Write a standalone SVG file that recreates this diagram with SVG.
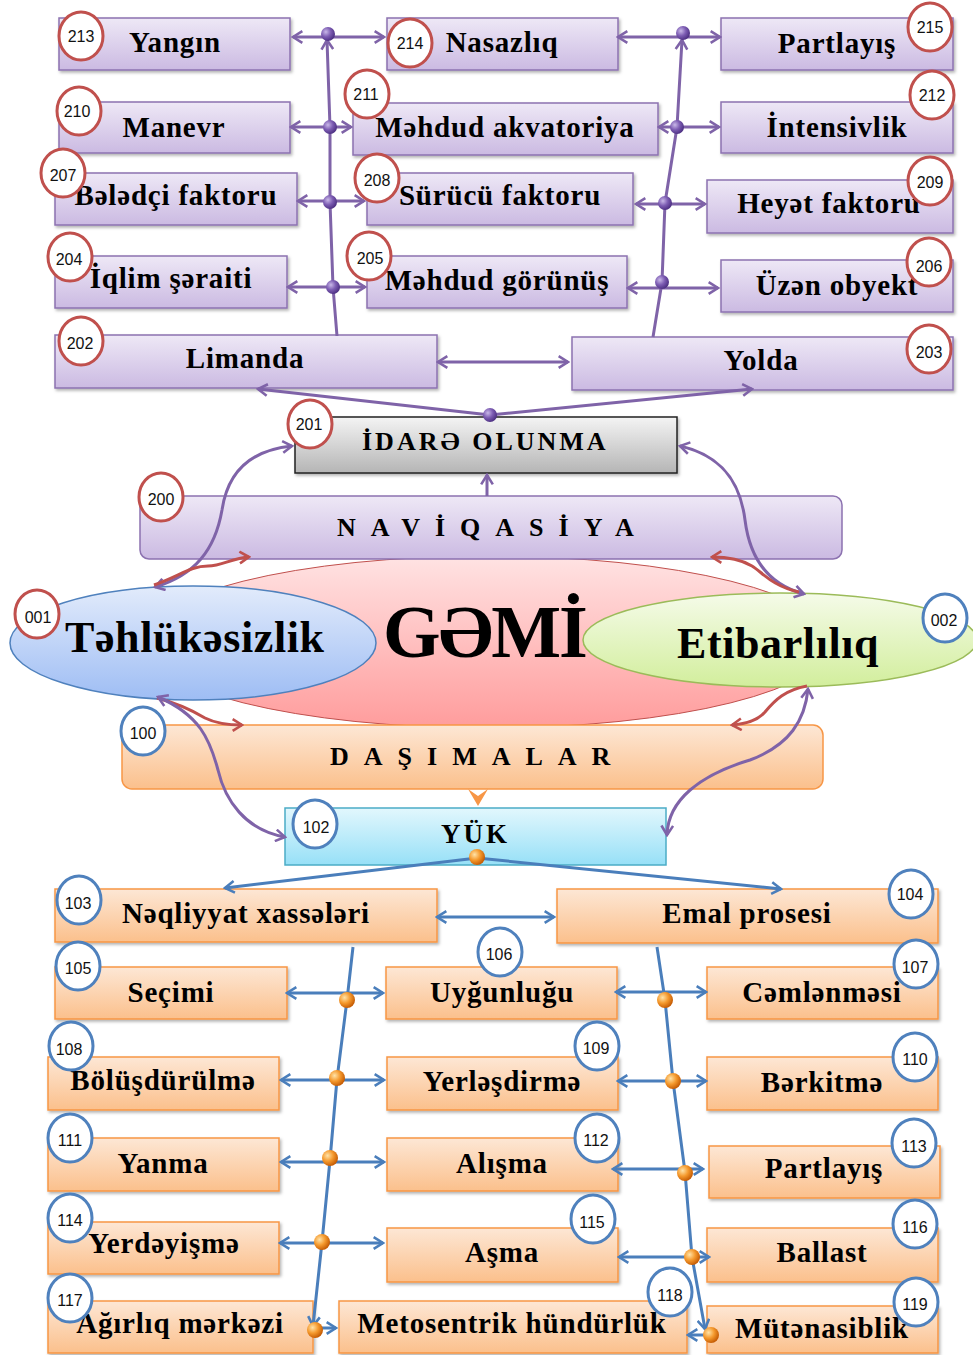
<svg xmlns="http://www.w3.org/2000/svg" width="973" height="1355" viewBox="0 0 973 1355">
<defs>
<style>
.lbl{font-family:"Liberation Serif","DejaVu Serif",serif;font-weight:bold;font-size:29px;letter-spacing:0.8px;fill:#000;text-anchor:middle}
.big{font-family:"Liberation Serif","DejaVu Serif",serif;font-weight:bold;fill:#000}
.num{font-family:"Liberation Sans","DejaVu Sans",sans-serif;font-size:16px;fill:#111;text-anchor:middle}
.bp{fill:url(#gPur);stroke:#8C72B0;stroke-width:1.5;filter:url(#sh)}
.bo{fill:url(#gOr);stroke:#F79646;stroke-width:1.5;filter:url(#sh)}
.cr{fill:#fff;stroke:#C0504D;stroke-width:3}
.cb{fill:#fff;stroke:#4F81BD;stroke-width:3}
.lp{fill:none;stroke:#7F63A8;stroke-width:3}
.lb{fill:none;stroke:#4A7EBB;stroke-width:3}
.lr{fill:none;stroke:#C0504D;stroke-width:3}
.dp{fill:url(#gDot)}
.do{fill:url(#gBall)}
</style>
<filter id="sh" x="-10%" y="-20%" width="120%" height="150%">
<feDropShadow dx="1.5" dy="2" stdDeviation="1.5" flood-color="#000" flood-opacity="0.3"/>
</filter>
<linearGradient id="gPur" x1="0" y1="0" x2="0" y2="1"><stop offset="0" stop-color="#EEE8F6"/><stop offset="1" stop-color="#CBBAE2"/></linearGradient>
<linearGradient id="gOr" x1="0" y1="0" x2="0" y2="1"><stop offset="0" stop-color="#FDE7D5"/><stop offset="1" stop-color="#FBC08C"/></linearGradient>
<linearGradient id="gCy" x1="0" y1="0" x2="0" y2="1"><stop offset="0" stop-color="#E2F7FD"/><stop offset="1" stop-color="#97E0F7"/></linearGradient>
<linearGradient id="gGr" x1="0" y1="0" x2="0" y2="1"><stop offset="0" stop-color="#F4F4F4"/><stop offset="1" stop-color="#B5B5B5"/></linearGradient>
<linearGradient id="gPink" x1="0" y1="0" x2="0" y2="1"><stop offset="0" stop-color="#FFE3E3"/><stop offset="1" stop-color="#FF9C9C"/></linearGradient>
<linearGradient id="gBlue" x1="0" y1="0" x2="0" y2="1"><stop offset="0" stop-color="#E2EBFB"/><stop offset="1" stop-color="#9EBDF4"/></linearGradient>
<linearGradient id="gGreen" x1="0" y1="0" x2="0" y2="1"><stop offset="0" stop-color="#F5FBE9"/><stop offset="1" stop-color="#D2EE9C"/></linearGradient>
<radialGradient id="gDot" cx="0.35" cy="0.35" r="0.7"><stop offset="0" stop-color="#C9B8E8"/><stop offset="0.5" stop-color="#7D5DB3"/><stop offset="1" stop-color="#4A2D80"/></radialGradient>
<radialGradient id="gBall" cx="0.35" cy="0.35" r="0.7"><stop offset="0" stop-color="#FFE3A8"/><stop offset="0.5" stop-color="#F59A2E"/><stop offset="1" stop-color="#C25700"/></radialGradient>
<marker id="ap" viewBox="0 0 12 12" refX="10" refY="6" markerWidth="14" markerHeight="14" markerUnits="userSpaceOnUse" orient="auto-start-reverse"><path d="M2,1 L10,6 L2,11" fill="none" stroke="#7F63A8" stroke-width="2.2"/></marker>
<marker id="ab" viewBox="0 0 12 12" refX="10" refY="6" markerWidth="14" markerHeight="14" markerUnits="userSpaceOnUse" orient="auto-start-reverse"><path d="M2,1 L10,6 L2,11" fill="none" stroke="#4A7EBB" stroke-width="2.2"/></marker>
<marker id="ar" viewBox="0 0 12 12" refX="10" refY="6" markerWidth="14" markerHeight="14" markerUnits="userSpaceOnUse" orient="auto-start-reverse"><path d="M2,1 L10,6 L2,11" fill="none" stroke="#C0504D" stroke-width="2.2"/></marker>
</defs>
<rect width="973" height="1355" fill="#fff"/>

<g id="gemi">
<ellipse cx="487" cy="642" rx="345" ry="86" fill="url(#gPink)" stroke="#C0504D" stroke-width="1"/>
</g>

<g id="n213"><rect class="bp" x="59" y="18" width="231" height="52"/><text class="lbl" x="175" y="52">Yangın</text></g>
<g id="n214"><rect class="bp" x="387" y="18" width="231" height="52"/><text class="lbl" x="502" y="52">Nasazlıq</text></g>
<g id="n215"><rect class="bp" x="721" y="18" width="232" height="52"/><text class="lbl" x="837" y="53">Partlayış</text></g>
<g id="n210"><rect class="bp" x="59" y="102" width="231" height="51"/><text class="lbl" x="174" y="137">Manevr</text></g>
<g id="n211"><rect class="bp" x="353" y="103" width="305" height="52"/><text class="lbl" x="505" y="137">Məhdud akvatoriya</text></g>
<g id="n212"><rect class="bp" x="721" y="102" width="232" height="51"/><text class="lbl" x="837" y="137">İntensivlik</text></g>
<g id="n207"><rect class="bp" x="55" y="173" width="242" height="52"/><text class="lbl" x="176" y="205">Bələdçi faktoru</text></g>
<g id="n208"><rect class="bp" x="367" y="173" width="266" height="52"/><text class="lbl" x="500" y="205">Sürücü faktoru</text></g>
<g id="n209"><rect class="bp" x="707" y="180" width="246" height="53"/><text class="lbl" x="829" y="213">Heyət faktoru</text></g>
<g id="n204"><rect class="bp" x="55" y="256" width="232" height="52"/><text class="lbl" x="171" y="288">İqlim şəraiti</text></g>
<g id="n205"><rect class="bp" x="367" y="256" width="260" height="52"/><text class="lbl" x="497" y="290">Məhdud görünüş</text></g>
<g id="n206"><rect class="bp" x="721" y="260" width="232" height="52"/><text class="lbl" x="837" y="295">Üzən obyekt</text></g>
<g id="n202"><rect class="bp" x="55" y="335" width="382" height="53"/><text class="lbl" x="245" y="368">Limanda</text></g>
<g id="n203"><rect class="bp" x="572" y="337" width="381" height="53"/><text class="lbl" x="761" y="370">Yolda</text></g>

<g id="n201"><rect x="295" y="417" width="382" height="56" fill="url(#gGr)" stroke="#222" stroke-width="1.5" filter="url(#sh)"/><text class="big" x="362" y="450" font-size="26" letter-spacing="3">İDARƏ OLUNMA</text></g>
<g id="n200"><rect x="140" y="496" width="702" height="63" rx="9" fill="url(#gPur)" stroke="#8C72B0" stroke-width="1.5"/><text class="big" x="337" y="536" font-size="26" letter-spacing="15">NAVİQASİYA</text></g>
<g id="n100"><rect x="122" y="725" width="701" height="64" rx="10" fill="url(#gOr)" stroke="#F79646" stroke-width="1.5"/><text class="big" x="330" y="765" font-size="26" letter-spacing="15">DAŞIMALAR</text></g>

<g id="gemiText"><text class="big" x="383" y="657" font-size="74" letter-spacing="-2">GƏMİ</text></g>
<g id="n001"><ellipse cx="193" cy="643" rx="183" ry="57" fill="url(#gBlue)" stroke="#4F81BD" stroke-width="1.5"/><text class="big" x="65" y="652" font-size="44" letter-spacing="0.6">Təhlükəsizlik</text></g>
<g id="n002"><ellipse cx="780" cy="640" rx="197" ry="47" fill="url(#gGreen)" stroke="#9BBB59" stroke-width="1.5"/><text class="big" x="677" y="658" font-size="44" letter-spacing="0.6">Etibarlılıq</text></g>

<g id="n102"><rect x="285" y="808" width="381" height="57" fill="url(#gCy)" stroke="#4BACC6" stroke-width="1.5"/><text class="big" x="441" y="843" font-size="27" letter-spacing="3">YÜK</text></g>

<g id="n103"><rect class="bo" x="55" y="889" width="382" height="53"/><text class="lbl" x="246" y="923">Nəqliyyat xassələri</text></g>
<g id="n104"><rect class="bo" x="557" y="889" width="381" height="54"/><text class="lbl" x="747" y="923">Emal prosesi</text></g>
<g id="n105"><rect class="bo" x="55" y="967" width="232" height="52"/><text class="lbl" x="171" y="1002">Seçimi</text></g>
<g id="n106"><rect class="bo" x="386" y="967" width="231" height="52"/><text class="lbl" x="502" y="1002">Uyğunluğu</text></g>
<g id="n107"><rect class="bo" x="707" y="967" width="231" height="52"/><text class="lbl" x="822" y="1002">Cəmlənməsi</text></g>
<g id="n108"><rect class="bo" x="48" y="1057" width="231" height="53"/><text class="lbl" x="163" y="1090">Bölüşdürülmə</text></g>
<g id="n109"><rect class="bo" x="387" y="1057" width="231" height="53"/><text class="lbl" x="502" y="1091">Yerləşdirmə</text></g>
<g id="n110"><rect class="bo" x="707" y="1057" width="231" height="53"/><text class="lbl" x="822" y="1092">Bərkitmə</text></g>
<g id="n111"><rect class="bo" x="48" y="1138" width="231" height="53"/><text class="lbl" x="163" y="1173">Yanma</text></g>
<g id="n112"><rect class="bo" x="387" y="1138" width="231" height="53"/><text class="lbl" x="502" y="1173">Alışma</text></g>
<g id="n113"><rect class="bo" x="709" y="1146" width="231" height="52"/><text class="lbl" x="824" y="1178">Partlayış</text></g>
<g id="n114"><rect class="bo" x="48" y="1222" width="231" height="52"/><text class="lbl" x="164" y="1253">Yerdəyişmə</text></g>
<g id="n115"><rect class="bo" x="387" y="1228" width="231" height="54"/><text class="lbl" x="502" y="1262">Aşma</text></g>
<g id="n116"><rect class="bo" x="707" y="1228" width="231" height="54"/><text class="lbl" x="822" y="1262">Ballast</text></g>
<g id="n117"><rect class="bo" x="48" y="1301" width="265" height="52"/><text class="lbl" x="180" y="1333">Ağırlıq mərkəzi</text></g>
<g id="n118"><rect class="bo" x="339" y="1301" width="348" height="52"/><text class="lbl" x="512" y="1333">Metosentrik hündürlük</text></g>
<g id="n119"><rect class="bo" x="707" y="1306" width="231" height="47"/><text class="lbl" x="822" y="1338">Mütənasiblik</text></g>

<g id="connectors">
<path class="lp" d="M337,336 L333,287 L330,202 L330,127 L327,40" marker-end="url(#ap)"/>
<path class="lp" d="M293,37 L384,37" marker-start="url(#ap)" marker-end="url(#ap)"/>
<path class="lp" d="M291,127 L351,127" marker-start="url(#ap)" marker-end="url(#ap)"/>
<path class="lp" d="M298,201 L364,201" marker-start="url(#ap)" marker-end="url(#ap)"/>
<path class="lp" d="M288,287 L365,287" marker-start="url(#ap)" marker-end="url(#ap)"/>
<path class="lp" d="M653,337 L662,282 L665,203 L677,127 L682,40" marker-end="url(#ap)"/>
<path class="lp" d="M618,37 L720,37" marker-start="url(#ap)" marker-end="url(#ap)"/>
<path class="lp" d="M659,127 L719,127" marker-start="url(#ap)" marker-end="url(#ap)"/>
<path class="lp" d="M636,204 L705,204" marker-start="url(#ap)" marker-end="url(#ap)"/>
<path class="lp" d="M628,288 L718,288" marker-start="url(#ap)" marker-end="url(#ap)"/>
<path class="lp" d="M438,362 L568,362" marker-start="url(#ap)" marker-end="url(#ap)"/>
<path class="lp" d="M490,415 L258,389" marker-end="url(#ap)"/>
<path class="lp" d="M490,415 L752,389" marker-end="url(#ap)"/>
<path class="lp" d="M487,496 L487,475" marker-end="url(#ap)"/>
<path class="lp" d="M155,587 C195,575 215,550 222,510 C228,470 252,450 292,446" marker-start="url(#ap)" marker-end="url(#ap)"/>
<path class="lr" d="M154,585 C180,576 190,566 208,566 C222,566 232,558 249,557" marker-end="url(#ar)"/>
<path class="lp" d="M680,446 C720,455 740,480 745,520 C750,560 770,585 804,594" marker-start="url(#ap)" marker-end="url(#ap)"/>
<path class="lr" d="M799,592 C772,586 762,572 752,566 C742,560 730,557 712,557" marker-end="url(#ar)"/>
<path class="lr" d="M157,698 C180,704 195,712 205,718 C215,723 228,725 242,725" marker-end="url(#ar)"/>
<path class="lp" d="M158,697 C200,715 210,740 218,770 C225,800 245,830 285,837" marker-start="url(#ap)" marker-end="url(#ap)"/>
<path class="lr" d="M807,686 C785,690 775,700 765,712 C758,720 745,724 732,725" marker-end="url(#ar)"/>
<path class="lp" d="M808,689 C805,720 790,745 750,760 C700,775 668,800 667,835" marker-start="url(#ap)" marker-end="url(#ap)"/>
<path d="M468,789 L478,806 L488,789 L478,796 Z" fill="#F79646"/>
<path class="lb" d="M477,858 L225,888" marker-end="url(#ab)"/>
<path class="lb" d="M477,858 L781,889" marker-end="url(#ab)"/>
<path class="lb" d="M437,917 L554,917" marker-start="url(#ab)" marker-end="url(#ab)"/>
<path class="lb" d="M353,947 L347,1000 L337,1079 L330,1160 L322,1242 L313,1326" marker-end="url(#ab)"/>
<path class="lb" d="M287,993 L383,993" marker-start="url(#ab)" marker-end="url(#ab)"/>
<path class="lb" d="M281,1080 L384,1080" marker-start="url(#ab)" marker-end="url(#ab)"/>
<path class="lb" d="M281,1162 L384,1162" marker-start="url(#ab)" marker-end="url(#ab)"/>
<path class="lb" d="M280,1243 L383,1243" marker-start="url(#ab)" marker-end="url(#ab)"/>
<path class="lb" d="M315,1328 L336,1328" marker-end="url(#ab)"/>
<path class="lb" d="M657,947 L665,1000 L673,1081 L685,1172 L692,1257 L705,1329" marker-end="url(#ab)"/>
<path class="lb" d="M616,992 L706,992" marker-start="url(#ab)" marker-end="url(#ab)"/>
<path class="lb" d="M618,1081 L706,1081" marker-start="url(#ab)" marker-end="url(#ab)"/>
<path class="lb" d="M613,1169 L703,1169" marker-start="url(#ab)" marker-end="url(#ab)"/>
<path class="lb" d="M619,1257 L709,1257" marker-start="url(#ab)" marker-end="url(#ab)"/>
<path class="lb" d="M711,1335 L688,1335" marker-end="url(#ab)"/>
<circle class="dp" cx="328" cy="34" r="7"/>
<circle class="dp" cx="330" cy="127" r="7"/>
<circle class="dp" cx="330" cy="202" r="7"/>
<circle class="dp" cx="333" cy="287" r="7"/>
<circle class="dp" cx="683" cy="33" r="7"/>
<circle class="dp" cx="677" cy="127" r="7"/>
<circle class="dp" cx="665" cy="203" r="7"/>
<circle class="dp" cx="662" cy="282" r="7"/>
<circle class="dp" cx="490" cy="415" r="7"/>
<circle class="do" cx="477" cy="857" r="8"/>
<circle class="do" cx="347" cy="1000" r="8"/>
<circle class="do" cx="337" cy="1078" r="8"/>
<circle class="do" cx="330" cy="1158" r="8"/>
<circle class="do" cx="322" cy="1242" r="8"/>
<circle class="do" cx="315" cy="1330" r="8"/>
<circle class="do" cx="665" cy="1000" r="8"/>
<circle class="do" cx="673" cy="1081" r="8"/>
<circle class="do" cx="685" cy="1173" r="8"/>
<circle class="do" cx="692" cy="1257" r="8"/>
<circle class="do" cx="711" cy="1335" r="8"/>
</g>

<g id="badges">
<g><ellipse class="cr" cx="81" cy="36" rx="22" ry="24"/><text class="num" x="81" y="42">213</text></g>
<g><ellipse class="cr" cx="410" cy="43" rx="22" ry="24"/><text class="num" x="410" y="49">214</text></g>
<g><ellipse class="cr" cx="930" cy="27" rx="22" ry="24"/><text class="num" x="930" y="33">215</text></g>
<g><ellipse class="cr" cx="79" cy="111" rx="22" ry="24"/><text class="num" x="77" y="117">210</text></g>
<g><ellipse class="cr" cx="367" cy="94" rx="22" ry="24"/><text class="num" x="366" y="100">211</text></g>
<g><ellipse class="cr" cx="932" cy="95" rx="22" ry="24"/><text class="num" x="932" y="101">212</text></g>
<g><ellipse class="cr" cx="63" cy="173" rx="22" ry="24"/><text class="num" x="63" y="181">207</text></g>
<g><ellipse class="cr" cx="377" cy="178" rx="22" ry="24"/><text class="num" x="377" y="186">208</text></g>
<g><ellipse class="cr" cx="930" cy="181" rx="22" ry="24"/><text class="num" x="930" y="188">209</text></g>
<g><ellipse class="cr" cx="70" cy="257" rx="22" ry="24"/><text class="num" x="69" y="265">204</text></g>
<g><ellipse class="cr" cx="369" cy="256" rx="22" ry="24"/><text class="num" x="370" y="264">205</text></g>
<g><ellipse class="cr" cx="929" cy="262" rx="22" ry="24"/><text class="num" x="929" y="272">206</text></g>
<g><ellipse class="cr" cx="81" cy="341" rx="22" ry="24"/><text class="num" x="80" y="349">202</text></g>
<g><ellipse class="cr" cx="929" cy="349" rx="22" ry="24"/><text class="num" x="929" y="358">203</text></g>
<g><ellipse class="cr" cx="310" cy="424" rx="22" ry="24"/><text class="num" x="309" y="430">201</text></g>
<g><ellipse class="cr" cx="161" cy="497" rx="22" ry="24"/><text class="num" x="161" y="505">200</text></g>
<g><ellipse class="cr" cx="37" cy="614" rx="22" ry="24"/><text class="num" x="38" y="623">001</text></g>
<g><ellipse class="cb" cx="945" cy="618" rx="22" ry="24"/><text class="num" x="944" y="626">002</text></g>
<g><ellipse class="cb" cx="143" cy="731" rx="22" ry="24"/><text class="num" x="143" y="739">100</text></g>
<g><ellipse class="cb" cx="315" cy="824" rx="22" ry="24"/><text class="num" x="316" y="833">102</text></g>
<g><ellipse class="cb" cx="79" cy="900" rx="22" ry="24"/><text class="num" x="78" y="909">103</text></g>
<g><ellipse class="cb" cx="911" cy="894" rx="22" ry="24"/><text class="num" x="910" y="900">104</text></g>
<g><ellipse class="cb" cx="78" cy="966" rx="22" ry="24"/><text class="num" x="78" y="974">105</text></g>
<g><ellipse class="cb" cx="500" cy="952" rx="22" ry="24"/><text class="num" x="499" y="960">106</text></g>
<g><ellipse class="cb" cx="916" cy="964" rx="22" ry="24"/><text class="num" x="915" y="973">107</text></g>
<g><ellipse class="cb" cx="71" cy="1046" rx="22" ry="24"/><text class="num" x="69" y="1055">108</text></g>
<g><ellipse class="cb" cx="597" cy="1046" rx="22" ry="24"/><text class="num" x="596" y="1054">109</text></g>
<g><ellipse class="cb" cx="915" cy="1057" rx="22" ry="24"/><text class="num" x="915" y="1065">110</text></g>
<g><ellipse class="cb" cx="70" cy="1138" rx="22" ry="24"/><text class="num" x="70" y="1146">111</text></g>
<g><ellipse class="cb" cx="597" cy="1138" rx="22" ry="24"/><text class="num" x="596" y="1146">112</text></g>
<g><ellipse class="cb" cx="914" cy="1143" rx="22" ry="24"/><text class="num" x="914" y="1152">113</text></g>
<g><ellipse class="cb" cx="70" cy="1218" rx="22" ry="24"/><text class="num" x="70" y="1226">114</text></g>
<g><ellipse class="cb" cx="593" cy="1219" rx="22" ry="24"/><text class="num" x="592" y="1228">115</text></g>
<g><ellipse class="cb" cx="915" cy="1224" rx="22" ry="24"/><text class="num" x="915" y="1233">116</text></g>
<g><ellipse class="cb" cx="70" cy="1298" rx="22" ry="24"/><text class="num" x="70" y="1306">117</text></g>
<g><ellipse class="cb" cx="670" cy="1292" rx="22" ry="24"/><text class="num" x="670" y="1301">118</text></g>
<g><ellipse class="cb" cx="916" cy="1302" rx="22" ry="24"/><text class="num" x="915" y="1310">119</text></g>
</g>
</svg>
